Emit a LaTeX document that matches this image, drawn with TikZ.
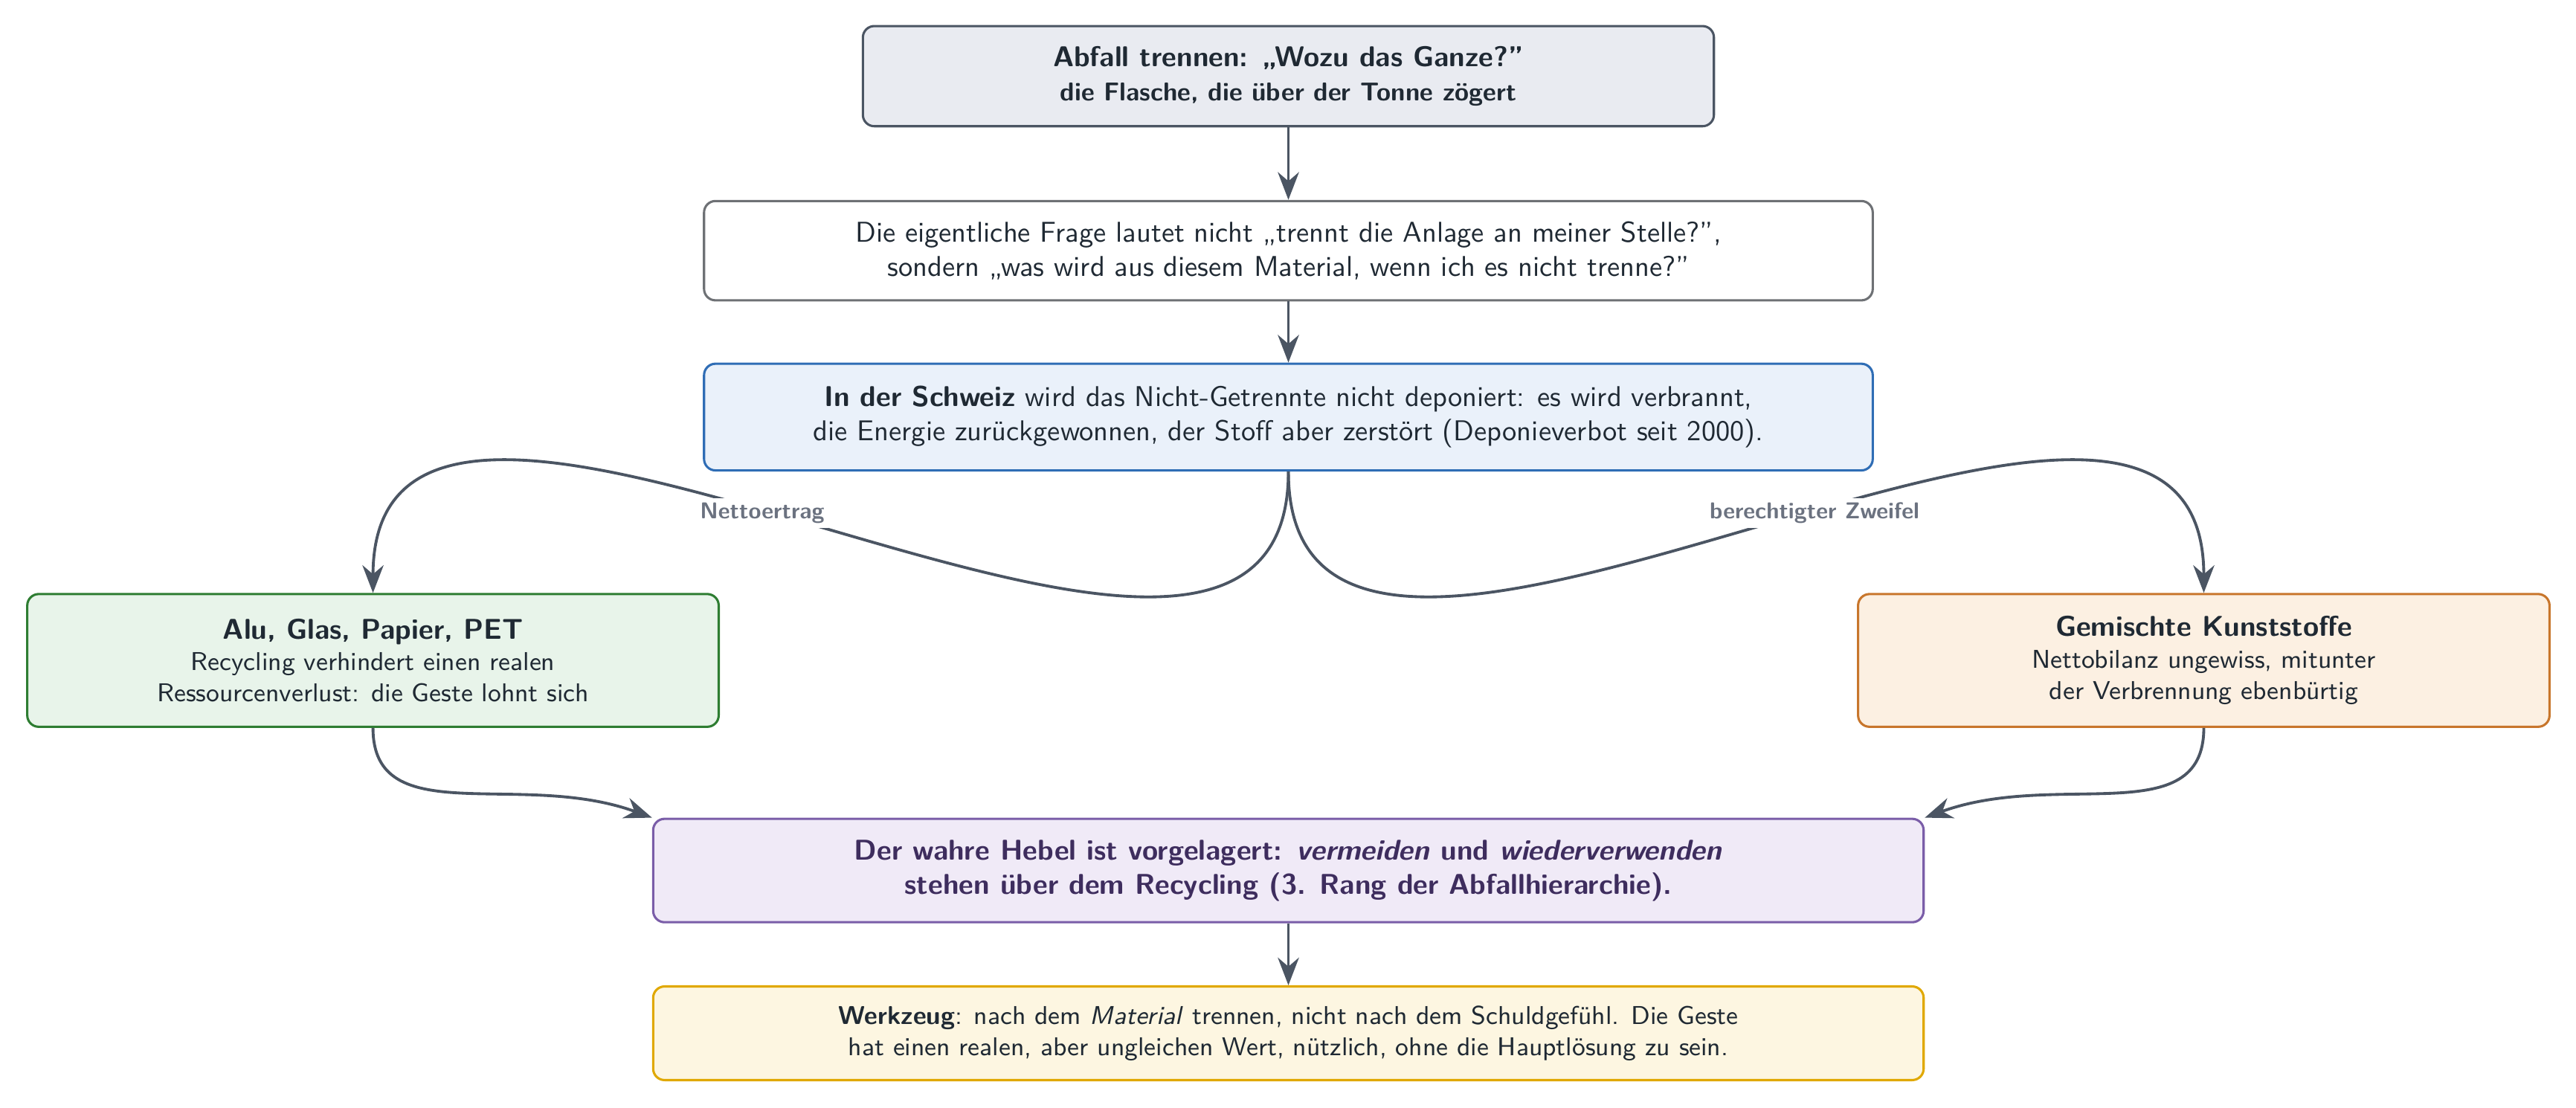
\documentclass[tikz,border=0pt]{standalone}
\usepackage{xcolor}
\usepackage{tikz}
\usetikzlibrary{arrows.meta, positioning}

\renewcommand{\familydefault}{\sfdefault}

\definecolor{ink}{HTML}{1F2933}
\definecolor{slate}{HTML}{4B5563}
\definecolor{lblgray}{HTML}{6B7280}
\definecolor{framegray}{HTML}{6E7175}
\definecolor{topfill}{HTML}{E9EBF1}
\definecolor{chblue}{HTML}{2F6DB5}
\definecolor{chfill}{HTML}{EAF1FA}
\definecolor{okgreen}{HTML}{2E7D32}
\definecolor{okfill}{HTML}{E8F4EA}
\definecolor{doubtorange}{HTML}{C8762C}
\definecolor{doubtfill}{HTML}{FCF0E2}
\definecolor{levpurple}{HTML}{7A5DA8}
\definecolor{levfill}{HTML}{F0EAF7}
\definecolor{levtext}{HTML}{3E2D5E}
\definecolor{toolgold}{HTML}{E0A800}
\definecolor{toolfill}{HTML}{FDF6E1}

\begin{document}
\begin{tikzpicture}[
    >={Stealth[length=3.4mm, width=2.6mm]},
    box/.style={draw, thick, rounded corners=4pt, align=center, inner sep=5pt, text=ink},
    titlebox/.style={box, draw=slate, fill=topfill, minimum width=10.45cm, minimum height=1.23cm},
    plainbox/.style={box, draw=framegray, fill=white, minimum width=14.35cm, minimum height=1.22cm},
    chbox/.style={box, draw=chblue, fill=chfill, minimum width=14.35cm, minimum height=1.31cm},
    okbox/.style={box, draw=okgreen, fill=okfill, minimum width=8.49cm, minimum height=1.63cm, font=\small},
    doubtbox/.style={box, draw=doubtorange, fill=doubtfill, minimum width=8.49cm, minimum height=1.63cm, font=\small},
    levbox/.style={box, draw=levpurple, fill=levfill, minimum width=15.6cm, minimum height=1.27cm, font=\bfseries, text=levtext},
    toolbox/.style={box, draw=toolgold, fill=toolfill, minimum width=15.6cm, minimum height=1.15cm, font=\small},
    flow/.style={->, line width=1pt, slate},
    lbl/.style={fill=white, inner sep=1.5pt, font=\footnotesize\bfseries, text=lblgray},
]
    \useasboundingbox (-15.82,0.935) rectangle (15.81,-12.665);

    \node[titlebox] (frage) at (0,0) {\textbf{Abfall trennen: „Wozu das Ganze?”}\\ {\small\bfseries die Flasche, die über der Tonne zögert}};
    \node[plainbox, below=0.89cm of frage] (kern) {Die eigentliche Frage lautet nicht „trennt die Anlage an meiner Stelle?”,\\ sondern „was wird aus diesem Material, wenn ich es nicht trenne?”};
    \node[chbox, below=0.75cm of kern] (schweiz) {\textbf{In der Schweiz} wird das Nicht-Getrennte nicht deponiert: es wird verbrannt,\\ die Energie zurückgewonnen, der Stoff aber zerstört (Deponieverbot seit 2000).};
    \node[okbox, below=1.49cm of schweiz, xshift=-11.24cm] (alu) {{\normalsize\bfseries Alu, Glas, Papier, PET}\\ Recycling verhindert einen realen\\ Ressourcenverlust: die Geste lohnt sich};
    \node[doubtbox, below=1.49cm of schweiz, xshift=11.24cm] (misch) {{\normalsize\bfseries Gemischte Kunststoffe}\\ Nettobilanz ungewiss, mitunter\\ der Verbrennung ebenbürtig};
    \node[levbox, below=4.25cm of schweiz] (hebel) {Der wahre Hebel ist vorgelagert: \textit{vermeiden} und \textit{wiederverwenden}\\ stehen über dem Recycling (3. Rang der Abfallhierarchie).};
    \node[toolbox, below=0.76cm of hebel] (werkzeug) {\textbf{Werkzeug}: nach dem \textit{Material} trennen, nicht nach dem Schuldgefühl. Die Geste\\ hat einen realen, aber ungleichen Wert, nützlich, ohne die Hauptlösung zu sein.};

    \draw[flow] (frage) -- (kern);
    \draw[flow] (kern) -- (schweiz);
    \draw[flow] (schweiz.south) to[out=-90, in=90, looseness=1.05] node[lbl, pos=0.55] {Nettoertrag} (alu.north);
    \draw[flow] (schweiz.south) to[out=-90, in=90, looseness=1.05] node[lbl, pos=0.55] {berechtigter Zweifel} (misch.north);
    \draw[flow] (alu.south) to[out=-90, in=160, out distance=1.28cm, in distance=1.73cm] (hebel.north west);
    \draw[flow] (misch.south) to[out=-90, in=20, out distance=1.28cm, in distance=1.73cm] (hebel.north east);
    \draw[flow] (hebel) -- (werkzeug);
\end{tikzpicture}
\end{document}
